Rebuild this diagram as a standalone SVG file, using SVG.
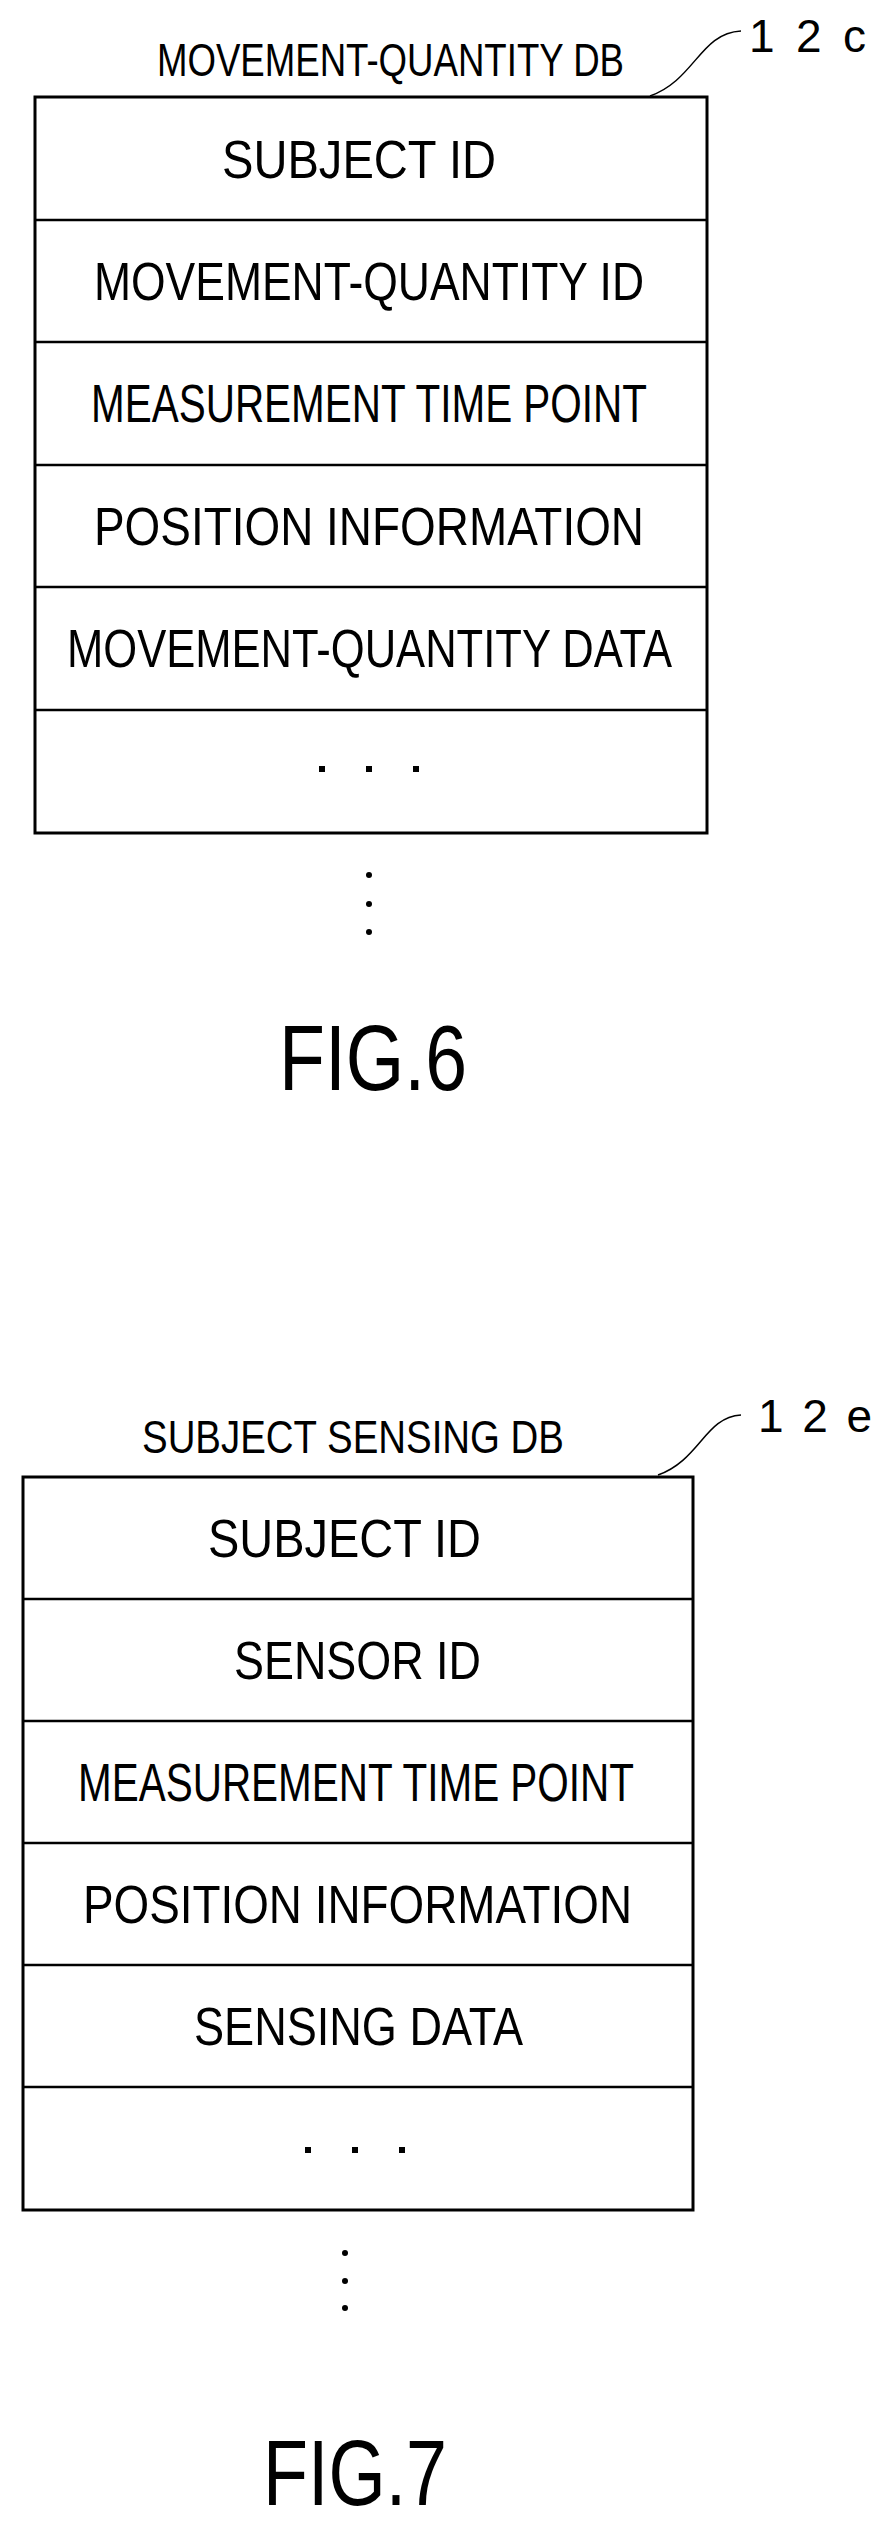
<svg xmlns="http://www.w3.org/2000/svg" width="889" height="2527" viewBox="0 0 889 2527">
<style>
text{font-family:"Liberation Sans",Arial,sans-serif;fill:#000}
.r{font-size:54px}
.t{font-size:46px}
.f{font-size:92px}
.box{fill:#fff;stroke:#000;stroke-width:3}
.ln{stroke:#000;stroke-width:2.5;fill:none}
.lead{stroke:#000;stroke-width:1.5;fill:none}
</style>
<rect width="889" height="2527" fill="#fff"/>
<g id="fig6">
<text class="t" x="157" y="76" textLength="467" lengthAdjust="spacingAndGlyphs">MOVEMENT-QUANTITY DB</text>
<text class="t" x="749" y="52" textLength="117" lengthAdjust="spacing">1 2 c</text>
<path class="lead" d="M650,96 C695,80 700,33 741,31"/>
<rect class="box" x="35" y="97" width="672" height="736"/>
<path class="ln" d="M35,220H707M35,342H707M35,465H707M35,587H707M35,710H707"/>
<text class="r" x="222" y="178" textLength="274" lengthAdjust="spacingAndGlyphs">SUBJECT ID</text>
<text class="r" x="94" y="300" textLength="550" lengthAdjust="spacingAndGlyphs">MOVEMENT-QUANTITY ID</text>
<text class="r" x="91" y="422" textLength="556" lengthAdjust="spacingAndGlyphs">MEASUREMENT TIME POINT</text>
<text class="r" x="94" y="545" textLength="550" lengthAdjust="spacingAndGlyphs">POSITION INFORMATION</text>
<text class="r" x="67" y="667" textLength="605" lengthAdjust="spacingAndGlyphs">MOVEMENT-QUANTITY DATA</text>
<rect x="319" y="766" width="6" height="6"/><rect x="366" y="766" width="6" height="6"/><rect x="413" y="766" width="6" height="6"/>
<circle cx="369" cy="875" r="3"/><circle cx="369" cy="904" r="3"/><circle cx="369" cy="932" r="3"/>
<text class="f" x="279" y="1090" textLength="188" lengthAdjust="spacingAndGlyphs">FIG.6</text>
</g>
<g id="fig7">
<text class="t" x="142" y="1453" textLength="422" lengthAdjust="spacingAndGlyphs">SUBJECT SENSING DB</text>
<text class="t" x="758" y="1432" textLength="114" lengthAdjust="spacing">1 2 e</text>
<path class="lead" d="M658,1475 C700,1460 705,1417 741,1415"/>
<rect class="box" x="23" y="1477" width="670" height="733"/>
<path class="ln" d="M23,1599H693M23,1721H693M23,1843H693M23,1965H693M23,2087H693"/>
<text class="r" x="208" y="1557" textLength="273" lengthAdjust="spacingAndGlyphs">SUBJECT ID</text>
<text class="r" x="234" y="1679" textLength="247" lengthAdjust="spacingAndGlyphs">SENSOR ID</text>
<text class="r" x="78" y="1801" textLength="556" lengthAdjust="spacingAndGlyphs">MEASUREMENT TIME POINT</text>
<text class="r" x="83" y="1923" textLength="549" lengthAdjust="spacingAndGlyphs">POSITION INFORMATION</text>
<text class="r" x="194" y="2045" textLength="329" lengthAdjust="spacingAndGlyphs">SENSING DATA</text>
<rect x="305" y="2147" width="6" height="6"/><rect x="352" y="2147" width="6" height="6"/><rect x="399" y="2147" width="6" height="6"/>
<circle cx="345" cy="2253" r="3"/><circle cx="345" cy="2281" r="3"/><circle cx="345" cy="2308" r="3"/>
<text class="f" x="263" y="2505" textLength="184" lengthAdjust="spacingAndGlyphs">FIG.7</text>
</g>
</svg>
